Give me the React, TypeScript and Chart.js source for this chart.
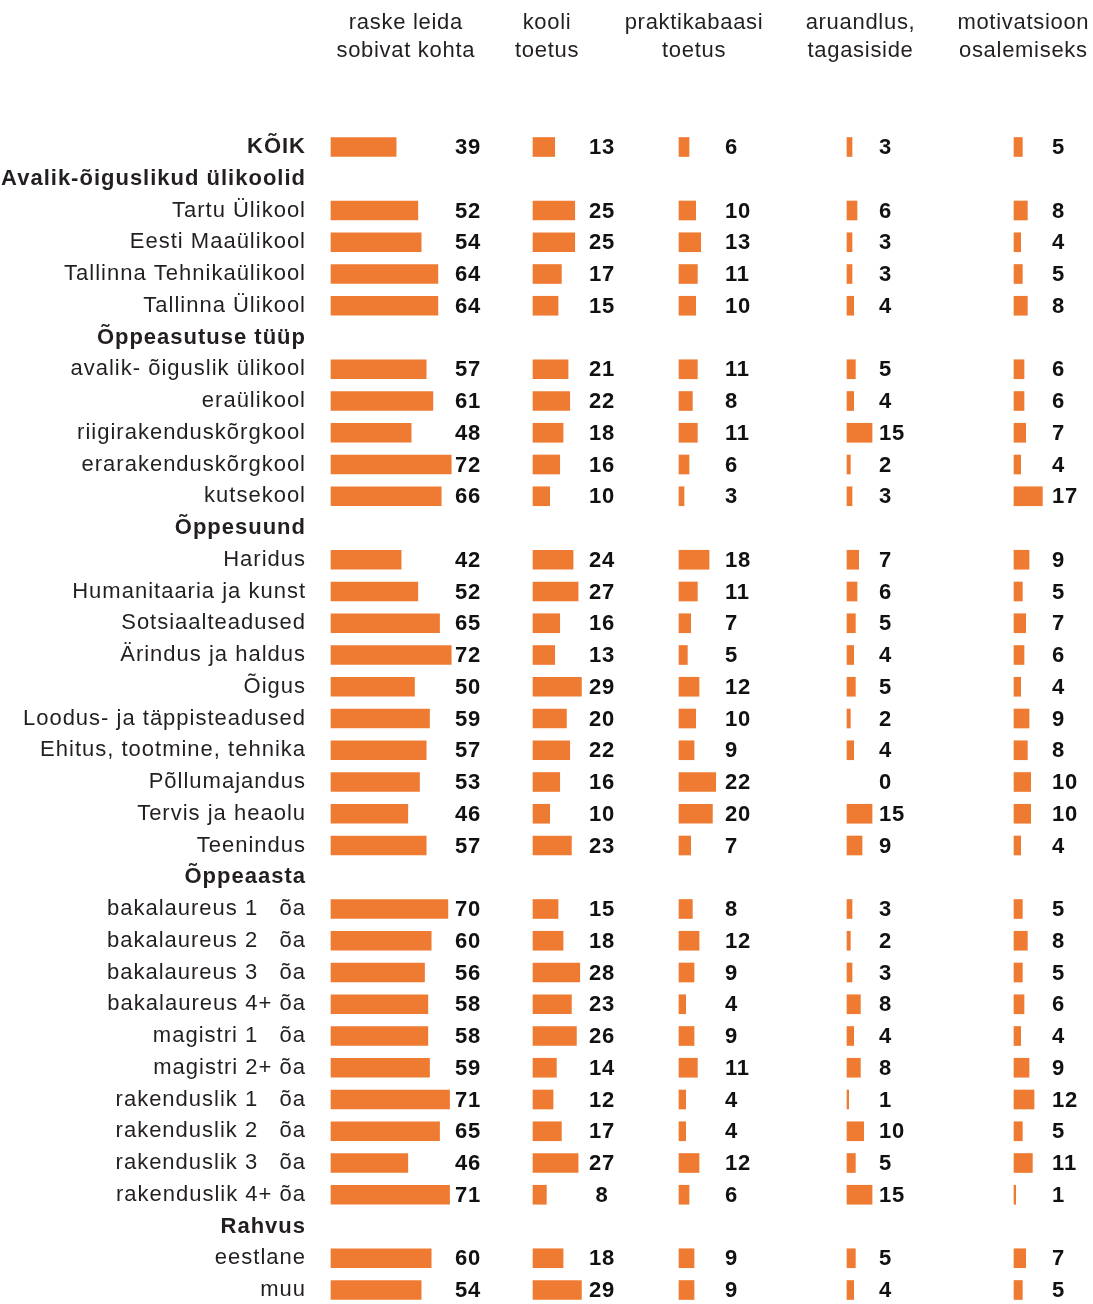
import React, { useEffect, useRef } from 'react';
import { Chart, registerables } from 'chart.js';

Chart.register(...registerables);

// ---------- data ----------
const categories = [
  'KÕIK',
  'Avalik-õiguslikud ülikoolid',
  'Tartu Ülikool',
  'Eesti Maaülikool',
  'Tallinna Tehnikaülikool',
  'Tallinna Ülikool',
  'Õppeasutuse tüüp',
  'avalik- õiguslik ülikool',
  'eraülikool',
  'riigirakenduskõrgkool',
  'erarakenduskõrgkool',
  'kutsekool',
  'Õppesuund',
  'Haridus',
  'Humanitaaria ja kunst',
  'Sotsiaalteadused',
  'Ärindus ja haldus',
  'Õigus',
  'Loodus- ja täppisteadused',
  'Ehitus, tootmine, tehnika',
  'Põllumajandus',
  'Tervis ja heaolu',
  'Teenindus',
  'Õppeaasta',
  'bakalaureus 1   õa',
  'bakalaureus 2   õa',
  'bakalaureus 3   õa',
  'bakalaureus 4+ õa',
  'magistri 1   õa',
  'magistri 2+ õa',
  'rakenduslik 1   õa',
  'rakenduslik 2   õa',
  'rakenduslik 3   õa',
  'rakenduslik 4+ õa',
  'Rahvus',
  'eestlane',
  'muu',
];

const boldRows = ['KÕIK', 'Avalik-õiguslikud ülikoolid', 'Õppeasutuse tüüp', 'Õppesuund', 'Õppeaasta', 'Rahvus'];

const columnTitles = [
  ['raske leida', 'sobivat kohta'],
  ['kooli', 'toetus'],
  ['praktikabaasi', 'toetus'],
  ['aruandlus,', 'tagasiside'],
  ['motivatsioon', 'osalemiseks'],
];

const raskeLeida = [39, null, 52, 54, 64, 64, null, 57, 61, 48, 72, 66, null, 42, 52, 65, 72, 50, 59, 57, 53, 46, 57, null, 70, 60, 56, 58, 58, 59, 71, 65, 46, 71, null, 60, 54];
const kooliToetus = [13, null, 25, 25, 17, 15, null, 21, 22, 18, 16, 10, null, 24, 27, 16, 13, 29, 20, 22, 16, 10, 23, null, 15, 18, 28, 23, 26, 14, 12, 17, 27, 8, null, 18, 29];
const praktikabaasiToetus = [6, null, 10, 13, 11, 10, null, 11, 8, 11, 6, 3, null, 18, 11, 7, 5, 12, 10, 9, 22, 20, 7, null, 8, 12, 9, 4, 9, 11, 4, 4, 12, 6, null, 9, 9];
const aruandlus = [3, null, 6, 3, 3, 4, null, 5, 4, 15, 2, 3, null, 7, 6, 5, 4, 5, 2, 4, 0, 15, 9, null, 3, 2, 3, 8, 4, 8, 1, 10, 5, 15, null, 5, 4];
const motivatsioon = [5, null, 8, 4, 5, 8, null, 6, 6, 7, 4, 17, null, 9, 5, 7, 6, 4, 9, 8, 10, 10, 4, null, 5, 8, 5, 6, 4, 9, 12, 5, 11, 1, null, 7, 5];

const seriesList = [raskeLeida, kooliToetus, praktikabaasiToetus, aruandlus, motivatsioon];

// ---------- styling / layout ----------
const FONT = '"Liberation Sans", Arial, Helvetica, sans-serif';
const BAR_COLOR = '#EF7B32';
const TEXT_COLOR = '#231F20';
const PX_PER_UNIT = 1.67;
const COL_WIDTHS = [202, 146, 168, 167, 79];
const VALUE_ANCHOR = [74.3, 41.3, 27.5, 19.2, 22.8];
const VALUE_ALIGN: CanvasTextAlign[] = ['left', 'center', 'left', 'left', 'left'];
const TITLE_ANCHOR = [44.8, 8.4, 9.0, 8.1, 5.6];

const axisIds = ['c1', 'c2', 'c3', 'c4', 'c5'];

const spacingPlugin = {
  id: 'letterSpacing',
  beforeDraw(chart: any) {
    (chart.ctx as any).letterSpacing = '1px';
  },
};

const valueLabelPlugin = {
  id: 'valueLabels',
  afterDatasetsDraw(chart: any) {
    const ctx = chart.ctx;
    ctx.save();
    (ctx as any).letterSpacing = '0.8px';
    ctx.font = `bold 22px ${FONT}`;
    ctx.fillStyle = '#111111';
    ctx.textBaseline = 'middle';
    seriesList.forEach((series, i) => {
      const xs = chart.scales[axisIds[i]];
      const ys = chart.scales.y;
      ctx.textAlign = VALUE_ALIGN[i];
      const x = xs.getPixelForValue(VALUE_ANCHOR[i]);
      series.forEach((v, j) => {
        if (v === null || v === undefined) return;
        const y = ys.getPixelForValue(j);
        ctx.fillText(String(v), x, y + 1);
      });
    });
    ctx.restore();
  },
};

const titlePlugin = {
  id: 'columnTitles',
  afterDraw(chart: any) {
    const ctx = chart.ctx;
    ctx.save();
    (ctx as any).letterSpacing = '0.7px';
    ctx.font = `22px ${FONT}`;
    ctx.fillStyle = TEXT_COLOR;
    ctx.textAlign = 'center';
    ctx.textBaseline = 'alphabetic';
    columnTitles.forEach((lines, i) => {
      const xs = chart.scales[axisIds[i]];
      const x = xs.getPixelForValue(TITLE_ANCHOR[i]);
      lines.forEach((line, k) => {
        ctx.fillText(line, x, 29 + k * 28);
      });
    });
    ctx.restore();
  },
};

export default function App() {
  const canvasRef = useRef<HTMLCanvasElement>(null);

  useEffect(() => {
    if (!canvasRef.current) return;
    const xScales: any = {};
    axisIds.forEach((id, i) => {
      xScales[id] = {
        type: 'linear',
        position: 'bottom',
        stack: 'columns',
        stackWeight: COL_WIDTHS[i],
        weight: i,
        min: 0,
        max: COL_WIDTHS[i] / PX_PER_UNIT,
        bounds: 'data',
        display: false,
        grid: { display: false },
      };
    });

    const chart = new Chart(canvasRef.current, {
      type: 'bar',
      data: {
        labels: categories,
        datasets: seriesList.map((series, i) => ({
          label: columnTitles[i].join(' '),
          data: series,
          xAxisID: axisIds[i],
          yAxisID: 'y',
          backgroundColor: (c: any) => (c.raw === 0 ? 'rgba(0,0,0,0)' : BAR_COLOR),
          borderWidth: 0,
          barThickness: 19,
          grouped: false,
          clip: false as any,
        })),
      },
      options: {
        indexAxis: 'y',
        animation: false,
        responsive: false,
        maintainAspectRatio: false,
        devicePixelRatio: 1,
        layout: { padding: { top: 147, bottom: 14, left: 0, right: 0 } },
        plugins: {
          legend: { display: false },
          tooltip: { enabled: false },
        },
        scales: {
          y: {
            type: 'category',
            labels: categories,
            position: 'left',
            offset: false,
            grid: { display: false, drawTicks: false },
            border: { display: false },
            ticks: {
              autoSkip: false,
              padding: 25,
              color: TEXT_COLOR,
              font: (c: any) => ({
                family: FONT,
                size: 22,
                weight: c.tick && boldRows.includes(c.tick.label) ? 'bold' : 'normal',
              }),
            },
            afterFit: (s: any) => {
              s.width = 331;
              s.paddingTop = 0;
              s.paddingBottom = 0;
            },
          },
          ...xScales,
        },
      } as any,
      plugins: [spacingPlugin, valueLabelPlugin, titlePlugin],
    });
    return () => chart.destroy();
  }, []);

  return (
    <div style={{ position: 'absolute', left: 0, top: 0, width: 1093, height: 1304, background: '#ffffff' }}>
      <canvas ref={canvasRef} width={1093} height={1304} style={{ width: 1093, height: 1304, display: 'block' }} />
    </div>
  );
}
